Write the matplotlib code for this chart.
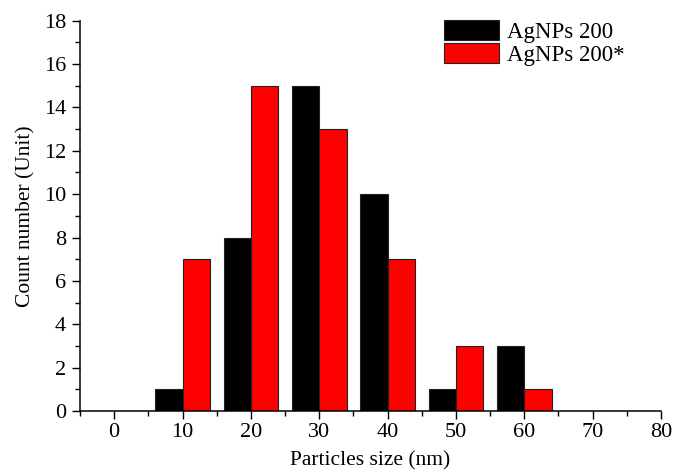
import numpy as np
import matplotlib
matplotlib.use('Agg')
import matplotlib.pyplot as plt
from matplotlib.ticker import MultipleLocator

# ---------- datos ----------
sizes = np.array([10, 20, 30, 40, 50, 60])       # nm
count_a = [1, 8, 15, 10, 1, 3]                    # AgNPs 200
count_b = [7, 15, 13, 7, 3, 1]                    # AgNPs 200*
labels = ['AgNPs 200', 'AgNPs 200*']

plt.rcParams['font.family'] = ['Liberation Serif', 'DejaVu Serif']

fig = plt.figure(figsize=(6.73, 4.74), dpi=100)
ax = fig.add_axes([80/673, 1 - 411/474, 581/673, (411 - 20.7)/474])

w = 4
ax.bar(sizes - w/2, count_a, width=w, color='black', edgecolor='#222222',
       linewidth=0.8, label=labels[0])
ax.bar(sizes + w/2, count_b, width=w, color='#ff0000', edgecolor='#222222',
       linewidth=0.8, label=labels[1])

ax.set_xlim(-5, 80)
ax.set_ylim(0, 18)
ax.xaxis.set_major_locator(MultipleLocator(10))
ax.xaxis.set_minor_locator(MultipleLocator(5))
ax.yaxis.set_major_locator(MultipleLocator(2))
ax.yaxis.set_minor_locator(MultipleLocator(1))

for s in ['top', 'right']:
    ax.spines[s].set_visible(False)
for s in ['left', 'bottom']:
    ax.spines[s].set_linewidth(1.1)

ax.tick_params(which='major', direction='out', length=5.5, width=1.0,
               labelsize=16, pad=3)
ax.tick_params(axis='y', which='major', pad=4.5)
ax.tick_params(which='minor', direction='out', length=3.5, width=1.0)

ax.set_xlabel('Particles size (nm)', fontsize=15.5, labelpad=7)
ax.set_ylabel('Count number (Unit)', fontsize=15.5, labelpad=6)

ax.legend(loc='upper left', bbox_to_anchor=(444/673, 1 - 20/474),
          bbox_transform=fig.transFigure, frameon=False, fontsize=16.5,
          handlelength=2.4, handleheight=0.95, labelspacing=0.02,
          handletextpad=0.35, borderpad=0, borderaxespad=0)

fig.savefig('out.png', dpi=100)
